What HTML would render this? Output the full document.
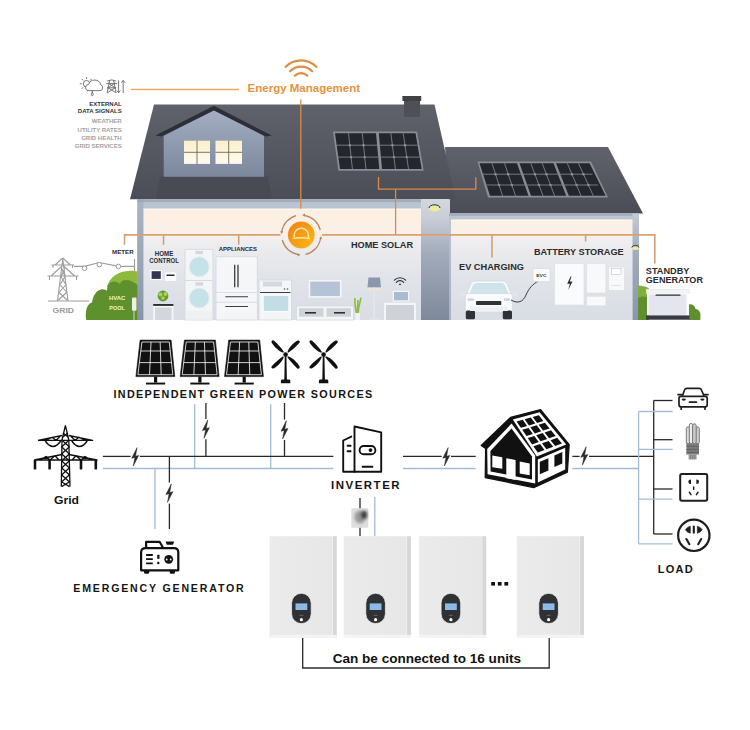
<!DOCTYPE html>
<html><head><meta charset="utf-8"><style>
html,body{margin:0;padding:0;background:#fff;width:750px;height:730px;overflow:hidden}
svg{display:block}
text{font-family:"Liberation Sans",sans-serif;font-weight:bold}
</style></head><body>
<svg width="750" height="730" viewBox="0 0 750 730">
<defs>
<linearGradient id="roofA" x1="0" y1="0" x2="0" y2="1"><stop offset="0" stop-color="#5f626a"/><stop offset="1" stop-color="#4b4e56"/></linearGradient>
<linearGradient id="roofB" x1="0" y1="0" x2="0" y2="1"><stop offset="0" stop-color="#60636b"/><stop offset="1" stop-color="#4a4d55"/></linearGradient>
<linearGradient id="dorm" x1="0" y1="0" x2="0" y2="1"><stop offset="0" stop-color="#a3aec2"/><stop offset="1" stop-color="#7c879c"/></linearGradient>
<linearGradient id="inner" gradientUnits="userSpaceOnUse" x1="0" y1="209" x2="0" y2="320"><stop offset="0" stop-color="#fdf0e2"/><stop offset="0.22" stop-color="#faf0e8"/><stop offset="0.3" stop-color="#eeedef"/><stop offset="0.6" stop-color="#e1e4e9"/><stop offset="1" stop-color="#d9dde4"/></linearGradient>
<linearGradient id="col" x1="0" y1="0" x2="0" y2="1"><stop offset="0" stop-color="#d3d7de"/><stop offset="0.15" stop-color="#c9ced7"/><stop offset="0.45" stop-color="#a2abba"/><stop offset="1" stop-color="#7f899c"/></linearGradient>
<linearGradient id="sun" x1="0" y1="0" x2="1" y2="1"><stop offset="0" stop-color="#ef7f1a"/><stop offset="1" stop-color="#fdbb14"/></linearGradient>
<linearGradient id="bat" x1="0" y1="0" x2="1" y2="0"><stop offset="0" stop-color="#ebebeb"/><stop offset="0.93" stop-color="#e7e7e7"/><stop offset="0.935" stop-color="#f1f1f1"/><stop offset="0.95" stop-color="#d6d6d6"/><stop offset="1" stop-color="#d9d9d9"/></linearGradient>
<filter id="blur1" x="-50%" y="-50%" width="200%" height="200%"><feGaussianBlur stdDeviation="1.4"/></filter>
<linearGradient id="col2" x1="0" y1="0" x2="0" y2="1"><stop offset="0" stop-color="#c3cad5"/><stop offset="0.3" stop-color="#a5afbe"/><stop offset="1" stop-color="#8a95a8"/></linearGradient>
<linearGradient id="band" x1="0" y1="0" x2="0" y2="1"><stop offset="0" stop-color="#bcc6d2"/><stop offset="0.5" stop-color="#aebacb"/><stop offset="1" stop-color="#a6b3c4"/></linearGradient>
<linearGradient id="col3" x1="0" y1="0" x2="0" y2="1"><stop offset="0" stop-color="#aab6c6"/><stop offset="0.5" stop-color="#9aa6b8"/><stop offset="1" stop-color="#8893a8"/></linearGradient>
<linearGradient id="win" x1="0" y1="0" x2="0" y2="1"><stop offset="0" stop-color="#fcf0c8"/><stop offset="1" stop-color="#fefaf0"/></linearGradient>
</defs>

<!-- ============ TOP ILLUSTRATION ============ -->
<!-- wifi -->
<g fill="none" stroke="#de8d45" stroke-width="2.2" stroke-linecap="round">
<path d="M285.6 66.8 A21.7 21.7 0 0 1 316.4 66.8"/>
<path d="M290.1 71.3 A15.6 15.6 0 0 1 312.2 71.3"/>
<path d="M294.8 75.8 A8.8 8.8 0 0 1 307.4 75.8"/>
</g>
<text x="247.6" y="92.4" font-size="11.5" fill="#e6923f">Energy Management</text>
<line x1="131" y1="89.5" x2="239" y2="89.5" stroke="#efa766" stroke-width="1.3"/>

<!-- external data signals -->
<g font-size="6" text-anchor="end">
<text x="121.7" y="106.3" fill="#333">EXTERNAL</text>
<text x="121.7" y="113.2" fill="#333">DATA SIGNALS</text>
<text x="121.7" y="123.4" fill="#a2a2a2">WEATHER</text>
<text x="121.7" y="131.6" fill="#a2a2a2">UTILITY RATES</text>
<text x="121.7" y="139.5" fill="#a2a2a2">GRID HEALTH</text>
<text x="121.7" y="147.7" fill="#a2a2a2">GRID SERVICES</text>
</g>
<g fill="none" stroke="#6a6a6a" stroke-width="0.9" stroke-linecap="round">
<circle cx="86.6" cy="83.8" r="3.3"/>
<path d="M86.6 78.6v-1.2M81.4 83.8h-1.2M82.9 80.1l-0.9-0.9M82.9 87.5l-0.9 0.9M90.3 80.1l0.9-0.9"/>
<path d="M87.6 90.6 H100 A2.9 2.9 0 0 0 100.9 85 A6.4 6.4 0 0 0 88.6 84.4 A3.2 3.2 0 0 0 87.6 90.6 Z" fill="#fff"/>
<path d="M92.3 90.6 V92.2 M92.3 92.2 C91 94 91 95.7 92.3 95.7 C93.6 95.7 93.6 94 92.3 92.2Z"/>
<path d="M107.6 80.8 Q111.6 78.8 115.6 80.8 M106.6 83.6 H116.6 M107.4 87.8 H115.8 M109.6 80.6 L107.2 92.6 M113.6 80.6 L116 92.6 M109 83.6 L115.2 87.8 M114.2 83.6 L108 87.8 M108.2 87.8 L115.6 92.6 M115 87.8 L107.6 92.6"/>
<path d="M118.6 80.6 V92.6 M117 90.8 L118.6 92.6 L120.2 90.8 M123.2 92.6 V80.6 M121.6 82.4 L123.2 80.6 L124.8 82.4"/>
</g>

<!-- house roofs -->
<polygon points="445,147.1 608,147.1 643,213.6 449,213.6" fill="url(#roofB)"/>
<polygon points="154,104.5 434.5,104.5 456,199.2 130,199.2" fill="url(#roofA)"/>
<!-- chimney -->
<rect x="404" y="100" width="16" height="17" fill="#4e5056"/>
<rect x="402.4" y="96" width="18.8" height="5" fill="#3f4147"/>
<!-- dormer shadow -->
<polygon points="160,176.7 268,176.7 272,199.2 156,199.2" fill="#46484e" opacity="0.6"/>
<!-- dormer wall -->
<polygon points="163.7,136 213.9,110 264,136 264,176.7 163.7,176.7" fill="url(#dorm)"/>
<polygon points="155.5,135.6 213.9,105.8 271.8,135.6 266,136.4 213.9,110.4 161,136.4" fill="#2c2f36"/>
<rect x="184" y="140.7" width="26" height="23.2" fill="url(#win)"/>
<rect x="215.5" y="140.7" width="26.5" height="23.2" fill="url(#win)"/>
<path d="M197 140.7v23.2M184 152.3h26M228.7 140.7v23.2M215.5 152.3h26.5" fill="none" stroke="#6f685a" stroke-width="0.9"/>

<!-- main roof solar -->
<polygon points="333,131.5 417,131.5 423.7,170.8 338.4,170.8" fill="#8b8d93"/>
<g fill="#23262d">
<polygon points="335,133.3 376,133.3 379.3,169 340,169"/>
<polygon points="378.8,133.3 415.5,133.3 421.7,169 382,169"/>
</g>
<g stroke="#7f828a" stroke-width="0.9" fill="none">
<path d="M348.5 133.3 L352.4 169 M362.3 133.3 L365.9 169 M390.9 133.3 L395.4 169 M403.2 133.3 L408.5 169"/>
<path d="M336.2 145.2 L377.1 145.2 M337.5 157.1 L378.2 157.1 M379.8 145.2 L417.5 145.2 M380.9 157.1 L419.6 157.1"/>
</g>
<!-- lower roof solar -->
<polygon points="477.5,161.6 591,161.6 608,197.5 488,197.5" fill="#8b8d93"/>
<g fill="#23262d">
<polygon points="479.5,163.3 517,163.3 528.5,195.8 490,195.8"/>
<polygon points="519.5,163.3 553.5,163.3 566.2,195.8 531,195.8"/>
<polygon points="556,163.3 589.6,163.3 605.6,195.8 568.8,195.8"/>
</g>
<g stroke="#7f828a" stroke-width="0.9" fill="none">
<path d="M492 163.3 L502.5 195.8 M504.5 163.3 L515.5 195.8 M530.8 163.3 L543 195.8 M542.2 163.3 L554.6 195.8 M567.3 163.3 L581.1 195.8 M578.5 163.3 L593.3 195.8"/>
<path d="M483 174.2 L592.5 174.2 M486.5 185 L598 185"/>
</g>
<g fill="#8e9197"><circle cx="349.8" cy="145.2" r="1.2"/><circle cx="351.1" cy="157.1" r="1.2"/><circle cx="363.5" cy="145.2" r="1.2"/><circle cx="364.7" cy="157.1" r="1.2"/><circle cx="392.4" cy="145.2" r="1.2"/><circle cx="393.9" cy="157.1" r="1.2"/><circle cx="405.0" cy="145.2" r="1.2"/><circle cx="406.7" cy="157.1" r="1.2"/><circle cx="495.5" cy="174.2" r="1.2"/><circle cx="499.0" cy="185" r="1.2"/><circle cx="508.2" cy="174.2" r="1.2"/><circle cx="511.8" cy="185" r="1.2"/><circle cx="534.9" cy="174.2" r="1.2"/><circle cx="538.9" cy="185" r="1.2"/><circle cx="546.4" cy="174.2" r="1.2"/><circle cx="550.5" cy="185" r="1.2"/><circle cx="571.9" cy="174.2" r="1.2"/><circle cx="576.5" cy="185" r="1.2"/><circle cx="583.5" cy="174.2" r="1.2"/><circle cx="588.4" cy="185" r="1.2"/></g>
<!-- roof orange lines -->
<g stroke="#d98b4a" stroke-width="1.3" fill="none">
<path d="M378.5 177 V189.2 H475.8 V177.3"/>
</g>

<!-- walls: main building -->
<rect x="137.3" y="199.2" width="284" height="120.8" fill="url(#band)"/>
<rect x="137.3" y="199.2" width="6.2" height="120.8" fill="url(#col3)"/><rect x="137.3" y="199.2" width="284" height="3" fill="#97a2b3" opacity="0.7"/>
<rect x="143.5" y="208.7" width="277.5" height="111.3" fill="url(#inner)"/><rect x="143.5" y="208.7" width="277.5" height="0.9" fill="#fffaf2"/>
<rect x="421" y="199.2" width="29" height="120.8" fill="url(#col)"/>
<ellipse cx="434.5" cy="208.5" rx="5.5" ry="3" fill="#ecec9a"/>
<path d="M429 208 a5.5 3.2 0 0 1 11 0" fill="none" stroke="#2b2b2b" stroke-width="1"/>
<!-- walls: right building -->
<rect x="449" y="213.6" width="190" height="106.4" fill="url(#band)"/><rect x="449" y="213.6" width="190" height="2.2" fill="#97a2b3" opacity="0.7"/>
<rect x="632.5" y="213.6" width="6.5" height="106.4" fill="url(#col2)"/>
<rect x="451" y="219.7" width="181.5" height="100.3" fill="url(#inner)"/><rect x="451" y="219.7" width="181.5" height="0.9" fill="#fffaf2"/>
<ellipse cx="635.4" cy="248.3" rx="3.6" ry="1.8" fill="#e9eda4"/><path d="M631.8 247.6 a3.6 2.2 0 0 1 7.2 0" fill="none" stroke="#2b2b2b" stroke-width="0.8"/>

<!-- main orange bus -->
<g stroke="#d98b4a" stroke-width="1.3" fill="none">
<path d="M395.6 189.2 V235"/>
<path d="M300.8 99.6 V208.7"/>
</g>
<path d="M163.5 234.9 V244.7 M238.7 234.9 V244.7 M492 234.9 V257.6 M585.6 234.9 V241.6 M124.5 234.9 V244.7 M654.8 234.9 V263.4" stroke="#d09c72" stroke-width="1.5" fill="none"/>
<path d="M123.8 234.9 H280.5 M322 234.9 H655.5" stroke="#d7a272" stroke-width="1.8" fill="none"/>
<!-- energy mgmt circle -->
<g fill="none" stroke="#b8845a" stroke-width="1.2">
<path d="M296 215.6 A19.8 19.8 0 0 0 281.7 232"/>
<path d="M282.3 240 A19.8 19.8 0 0 0 298.5 254.6"/>
<path d="M305.5 254.4 A19.8 19.8 0 0 0 320.6 238.5"/>
<path d="M320.3 230 A19.8 19.8 0 0 0 304.3 215.3"/>
</g>
<g fill="#b8845a">
<path d="M281.7 234 l-1.6 -2.8 h3.2z"/>
<path d="M300.5 254.8 l-2.8 -1.6 v3.2z"/>
<path d="M320.8 236.2 l-1.6 2.8 h3.2z"/>
<path d="M302.2 215.1 l2.8 -1.6 v3.2z"/>
</g>
<circle cx="301.3" cy="235" r="13.4" fill="url(#sun)"/>
<path d="M294.2 237.8 v-2.5 a7.1 7.1 0 0 1 14.2 0 v2.5" fill="none" stroke="#fde7a0" stroke-width="1.4"/>
<path d="M292.5 238.6 q8.8 -1.6 17.6 0" fill="none" stroke="#fde7a0" stroke-width="1.4"/>

<!-- ground left: grid tower, wire, bush -->
<g fill="none" stroke="#9c9c9c" stroke-width="1.1">
<path d="M48 301 H89"/>
<path d="M62.8 259 L57.5 301 M62.8 259 L68 301 M58.5 292 L67 300 M59.5 284 L66.5 292 M60.5 276 L65.5 284 M61.5 268 L64.8 276 M67 292 L58.5 300 M66.5 284 L59.5 292 M65.5 276 L60.5 284 M64.8 268 L61.5 276"/>
<path d="M51.5 265 H74 M47.5 276 H78.5 M53 265 v3 M72.5 265 v3 M49.5 276 v4 M76.5 276 v4 M62.8 258 L55 265 M62.8 258 L70.5 265 M62 266 L51 276 M63.6 266 L74.5 276"/>
<path d="M74 266.4 L84.6 266.4 M84.6 266.4 L99.3 262.5 L118.4 266.4 H134"/>
<path d="M134.5 259 v14"/>
</g>
<g fill="#fff" stroke="#9c9c9c" stroke-width="1">
<circle cx="84.6" cy="268.3" r="2.3"/><circle cx="99.3" cy="264.6" r="2.3"/><circle cx="118.4" cy="266.4" r="2.3"/>
</g>
<text x="52.5" y="313.2" font-size="7.6" fill="#9a9a9a" textLength="21.5" lengthAdjust="spacingAndGlyphs">GRID</text>
<path d="M106.7 287 C110 277 118 271 130 270.7 C133 270.7 135.5 271 137.5 271.5 V286 Z" fill="#8dba3a"/>
<path d="M86.2 320 C85 312 86.5 304 92 302.5 C93 295 97 290 101 289.5 C104 289 106 290 107 291 C107 285 110 281.5 114 281.5 C117 281.5 119 283 120 284 C121 281 123 280 126 280 C130 280 134 282 137.5 285 V320 Z" fill="#5e912d"/>
<rect x="132" y="297.4" width="4.5" height="13.4" rx="1" fill="#eceef0"/><path d="M134 310.8 V320" stroke="#e6e8ea" stroke-width="0.8"/>
<g font-size="6" fill="#eef5c4">
<text x="108.9" y="299.8" textLength="16.4" lengthAdjust="spacingAndGlyphs">HVAC</text>
<text x="109.2" y="309.7" textLength="15.7" lengthAdjust="spacingAndGlyphs">POOL</text>
</g>

<!-- labels -->
<g fill="#2a2c30">
<text x="112" y="254.2" font-size="5.8" textLength="21.6" lengthAdjust="spacingAndGlyphs">METER</text>
<text x="154.8" y="255.9" font-size="6.6" textLength="18.6" lengthAdjust="spacingAndGlyphs">HOME</text>
<text x="149.3" y="263" font-size="6.6" textLength="29.6" lengthAdjust="spacingAndGlyphs">CONTROL</text>
<text x="218.7" y="251.2" font-size="6.2" textLength="38.3" lengthAdjust="spacingAndGlyphs">APPLIANCES</text>
<text x="351" y="248.4" font-size="9.4" textLength="62" lengthAdjust="spacingAndGlyphs">HOME SOLAR</text>
<text x="459" y="269.8" font-size="9.4" textLength="65" lengthAdjust="spacingAndGlyphs">EV CHARGING</text>
<text x="534" y="254.6" font-size="9.4" textLength="89.7" lengthAdjust="spacingAndGlyphs">BATTERY STORAGE</text>
<text x="645.8" y="274.2" font-size="9.2" textLength="43.6" lengthAdjust="spacingAndGlyphs">STANDBY</text>
<text x="645.8" y="282.6" font-size="9.2" textLength="57.2" lengthAdjust="spacingAndGlyphs">GENERATOR</text>
</g>

<!-- home control devices -->
<rect x="150.3" y="270" width="11.7" height="10.1" fill="#fff"/>
<rect x="151.6" y="271.2" width="9.2" height="7.7" fill="#2f3552"/>
<rect x="165" y="272.3" width="11.2" height="8.7" fill="#fbfbfc"/>
<rect x="166.5" y="274.5" width="8" height="1.5" fill="#2b2b2b"/>
<!-- side table + plant -->
<rect x="153.2" y="305.8" width="20.2" height="14.2" fill="#f5f6f8"/>
<rect x="155" y="307.5" width="16.6" height="12.5" fill="#d3d6dc"/>
<rect x="153.2" y="304" width="20.2" height="1.9" fill="#2d2f33"/>
<circle cx="163" cy="296" r="5.4" fill="#6a9a35"/>
<circle cx="160.5" cy="294.5" r="2" fill="#a6d35a"/><circle cx="165.5" cy="294" r="2" fill="#a6d35a"/><circle cx="163" cy="298" r="1.8" fill="#a6d35a"/>
<!-- washer stack -->
<g stroke="#d4d8de" stroke-width="0.8">
<rect x="185" y="249.3" width="27.9" height="31.2" fill="#f4f5f7"/>
<rect x="185" y="280.5" width="27.9" height="39.5" fill="#f4f5f7"/>
</g>
<rect x="195.5" y="250.8" width="7.5" height="3.4" fill="#d5d8dd"/>
<rect x="195.5" y="282.3" width="7.5" height="3.4" fill="#d5d8dd"/>
<circle cx="199.2" cy="266.8" r="10" fill="#c5e2e8" stroke="#e6eef0" stroke-width="1"/>
<circle cx="199.2" cy="298" r="10" fill="#c5e2e8" stroke="#e6eef0" stroke-width="1"/>
<rect x="186" y="311" width="26" height="8.5" fill="#eef0f2"/>
<!-- fridge -->
<rect x="216" y="256.7" width="41.3" height="63.3" fill="#f5f6f8" stroke="#d4d8de" stroke-width="0.8"/>
<path d="M216 292.5 H257.3 M216 302.3 H257.3" stroke="#d4d8de" stroke-width="0.8"/>
<path d="M234.7 264.7 V287.3 M238 264.7 V287.3" stroke="#3a3c40" stroke-width="1.3"/>
<path d="M225.3 296.7 H248 M225.3 306.5 H248" stroke="#3a3c40" stroke-width="1.1"/>
<!-- oven -->
<rect x="259" y="280" width="32.5" height="40" fill="#f5f6f8" stroke="#d4d8de" stroke-width="0.8"/>
<rect x="263" y="281.5" width="19" height="5" fill="#d5d8dd"/>
<path d="M260 292.5 H290.5" stroke="#3a3c40" stroke-width="1"/>
<circle cx="284.5" cy="289" r="0.8" fill="#555"/><circle cx="287.5" cy="289" r="0.8" fill="#555"/>
<rect x="263.2" y="295.3" width="25.6" height="16" fill="#c3dde4" stroke="#fff" stroke-width="0.8"/>
<!-- TV + stand -->
<rect x="308.6" y="280" width="33" height="17.7" fill="#f3f5f7"/>
<rect x="310.3" y="281.6" width="29.6" height="14.5" fill="#b4c4d6"/>
<rect x="296.5" y="306" width="57" height="14" fill="#f4f5f7" stroke="#d4d8de" stroke-width="0.8"/>
<rect x="299" y="308.2" width="24.5" height="8.5" fill="#cfd3d9"/>
<rect x="326.5" y="308.2" width="24.5" height="8.5" fill="#cfd3d9"/>
<rect x="305" y="312" width="11" height="1.6" fill="#2e3034"/><rect x="334" y="312" width="11" height="1.6" fill="#2e3034"/>
<!-- plant -->
<path d="M357.5 318 C356 310 354 304 355 298 M357.5 318 C358 310 359.5 303 361 297.7 M357.5 318 C357 311 357.5 305 358 300" stroke="#8bbd44" stroke-width="1.6" fill="none"/>
<rect x="355.3" y="313" width="4.6" height="7" fill="#f1f2f4"/>
<!-- lamp -->
<polygon points="368.5,277.4 380,277.4 381,287.5 367.4,287.5" fill="#8a97ad"/>
<rect x="367.4" y="287.5" width="13.6" height="3" fill="#f4ead0" opacity="0.7"/>
<path d="M374.2 287.5 V318" stroke="#e5e7ea" stroke-width="1.6"/>
<rect x="369.5" y="317.8" width="9.5" height="2.2" fill="#e1e3e6"/>
<!-- desk + laptop -->
<rect x="384" y="302.7" width="32" height="17.3" fill="#f4f5f7"/>
<rect x="386" y="305" width="28" height="15" fill="#cfd3d9"/>
<rect x="392.7" y="290.8" width="16.5" height="10.7" fill="#f4f5f7"/>
<rect x="394" y="292" width="14" height="8.3" fill="#a9bccf"/>
<g fill="none" stroke="#2e3034" stroke-width="1.1" stroke-linecap="round">
<path d="M394.3 280.2 a8 8 0 0 1 11.4 0"/><path d="M396.3 282.3 a5 5 0 0 1 7.4 0"/>
</g>
<circle cx="400" cy="284.3" r="0.9" fill="#2e3034"/>

<!-- car -->
<rect x="460" y="293" width="6" height="3" rx="1" fill="#e2e5e9"/><rect x="511.8" y="293" width="6" height="3" rx="1" fill="#e2e5e9"/>
<path d="M466.5 295 L470.5 284.5 Q471.5 281 475 281 H503 Q506.5 281 507.5 284.5 L511.5 295Z" fill="#f7f8fa" stroke="#d3d8de" stroke-width="0.7"/>
<path d="M469.5 294 L472.8 285.5 Q473.6 283 476.5 283 H501.5 Q504.4 283 505.2 285.5 L508.5 294Z" fill="#cfe3ea"/>
<rect x="465.3" y="293.5" width="47.2" height="18.5" rx="3" fill="#f9fafb" stroke="#d3d8de" stroke-width="0.7"/>
<rect x="476" y="301" width="25.3" height="4" rx="0.8" fill="#2f3236"/>
<rect x="467.5" y="298.5" width="6.5" height="2.2" rx="1" fill="#cdd2d8"/><rect x="503.8" y="298.5" width="6.5" height="2.2" rx="1" fill="#cdd2d8"/>
<rect x="465.8" y="310.5" width="9.2" height="8.8" rx="1.6" fill="#2f3236"/>
<rect x="502.8" y="310.5" width="9.2" height="8.8" rx="1.6" fill="#2f3236"/>
<rect x="470" y="306.5" width="38" height="4.5" fill="#eef0f2"/>
<path d="M511 300 C518 304 523 302 526 295 C529 288 533 284 538.5 281" fill="none" stroke="#3a3c40" stroke-width="1"/>
<!-- EVC -->
<rect x="533" y="268.6" width="17" height="12.9" fill="#fbfbfc" stroke="#d4d8de" stroke-width="0.6"/>
<text x="536.2" y="276.6" font-size="4" fill="#333" textLength="10.5" lengthAdjust="spacingAndGlyphs">EVC</text>
<!-- battery storage units -->
<rect x="554.7" y="263.7" width="29.3" height="41.3" fill="#fafbfc" stroke="#dde0e5" stroke-width="0.7"/>
<path d="M570.6 276.5 l-3.4 7.2 h2.7 l-1.7 6.2 l4.3 -8.3 h-2.7 l1.7 -5.1z" fill="#2a2c30"/>
<rect x="586.7" y="263.7" width="19.2" height="29.3" fill="#f8f9fa" stroke="#dde0e5" stroke-width="0.7"/>
<rect x="586.7" y="296.2" width="19.2" height="9.6" fill="#f8f9fa" stroke="#dde0e5" stroke-width="0.7"/>
<rect x="608.5" y="266.9" width="16" height="23.4" fill="#f8f9fa" stroke="#dde0e5" stroke-width="0.7"/>
<rect x="611.5" y="268.5" width="9.5" height="6" fill="#fff" stroke="#c0c4ca" stroke-width="0.6"/>
<path d="M611.5 285.5 h9.5" stroke="#c0c4ca" stroke-width="0.8" stroke-dasharray="1 1"/>

<!-- right bush + generator -->
<path d="M638 320 V285.6 C642 285.6 646 286.5 649 288.5 V320Z" fill="#7fb03a"/>
<path d="M638 320 V298 C641 296 645 296 648.8 298 V320Z" fill="#5e912d"/>
<path d="M689 320 V304.2 C693 304 695 306 695.5 309 C699 309.5 701 312.5 700.4 316 V320Z" fill="#5e912d"/>
<rect x="646.2" y="289.2" width="43.2" height="4.2" fill="#f2f3f6" stroke="#dfe2e7" stroke-width="0.5"/>
<rect x="647" y="293.4" width="40.8" height="22" fill="#fafbfc"/>
<rect x="648.5" y="294.5" width="37.8" height="20.5" fill="#e3e6ee"/>
<path d="M656 295.2 H680" stroke="#2d2f36" stroke-width="1.2" stroke-linecap="round"/>
<rect x="646.2" y="315.4" width="43.2" height="4.3" fill="#393a44"/>

<!-- ============ LOWER ============ -->
<polygon points="140.1,340.1 171.1,340.1 174.8,376.6 135.9,376.6" fill="#111" stroke="#111" stroke-width="0.6" stroke-linejoin="round"/>
<polygon points="141.91,342.00 169.29,342.00 172.81,374.70 137.90,374.70" fill="none" stroke="#fff" stroke-width="0.8"/>
<path d="M151.03 342.00 L149.53 374.70" stroke="#fff" stroke-width="0.8"/>
<path d="M140.80 350.99 L170.26 350.99" stroke="#fff" stroke-width="0.8"/>
<path d="M160.16 342.00 L161.17 374.70" stroke="#fff" stroke-width="0.8"/>
<path d="M139.38 362.60 L171.51 362.60" stroke="#fff" stroke-width="0.8"/>
<rect x="154.00" y="376.6" width="3.2" height="6" fill="#111"/>
<rect x="146.00" y="382.6" width="19.2" height="1.9" fill="#111"/>
<polygon points="184.39999999999998,340.1 215.39999999999998,340.1 219.10000000000002,376.6 180.2,376.6" fill="#111" stroke="#111" stroke-width="0.6" stroke-linejoin="round"/>
<polygon points="186.20,342.00 213.59,342.00 217.11,374.70 182.19,374.70" fill="none" stroke="#fff" stroke-width="0.8"/>
<path d="M195.33 342.00 L193.83 374.70" stroke="#fff" stroke-width="0.8"/>
<path d="M185.10 350.99 L214.56 350.99" stroke="#fff" stroke-width="0.8"/>
<path d="M204.46 342.00 L205.47 374.70" stroke="#fff" stroke-width="0.8"/>
<path d="M183.68 362.60 L215.81 362.60" stroke="#fff" stroke-width="0.8"/>
<rect x="198.30" y="376.6" width="3.2" height="6" fill="#111"/>
<rect x="190.30" y="382.6" width="19.2" height="1.9" fill="#111"/>
<polygon points="228.7,340.1 259.7,340.1 263.4,376.6 224.5,376.6" fill="#111" stroke="#111" stroke-width="0.6" stroke-linejoin="round"/>
<polygon points="230.50,342.00 257.89,342.00 261.40,374.70 226.50,374.70" fill="none" stroke="#fff" stroke-width="0.8"/>
<path d="M239.63 342.00 L238.13 374.70" stroke="#fff" stroke-width="0.8"/>
<path d="M229.40 350.99 L258.86 350.99" stroke="#fff" stroke-width="0.8"/>
<path d="M248.76 342.00 L249.77 374.70" stroke="#fff" stroke-width="0.8"/>
<path d="M227.98 362.60 L260.11 362.60" stroke="#fff" stroke-width="0.8"/>
<rect x="242.60" y="376.6" width="3.2" height="6" fill="#111"/>
<rect x="234.60" y="382.6" width="19.2" height="1.9" fill="#111"/>
<path d="M3 -0.5 C7 -2.6 13 -2.9 17.8 -1.9 C20 -1.4 20 1.1 17.8 1.2 C13 1.6 7 1.3 3 0.6 Z" fill="#111" transform="translate(285.6 354.5) rotate(-134)"/>
<path d="M3 -0.5 C7 -2.6 13 -2.9 17.8 -1.9 C20 -1.4 20 1.1 17.8 1.2 C13 1.6 7 1.3 3 0.6 Z" fill="#111" transform="translate(285.6 354.5) rotate(-44)"/>
<path d="M3 -0.5 C7 -2.6 13 -2.9 17.8 -1.9 C20 -1.4 20 1.1 17.8 1.2 C13 1.6 7 1.3 3 0.6 Z" fill="#111" transform="translate(285.6 354.5) rotate(46)"/>
<path d="M3 -0.5 C7 -2.6 13 -2.9 17.8 -1.9 C20 -1.4 20 1.1 17.8 1.2 C13 1.6 7 1.3 3 0.6 Z" fill="#111" transform="translate(285.6 354.5) rotate(136)"/>
<circle cx="285.6" cy="354.5" r="2.3" fill="#111"/>
<polygon points="284.8,354.5 286.40000000000003,354.5 286.90000000000003,380 284.3,380" fill="#111"/>
<path d="M280.90000000000003 383.3 V381 Q280.90000000000003 379.6 282.3 379.6 H288.90000000000003 Q290.3 379.6 290.3 381 V383.3Z" fill="#111"/>
<path d="M3 -0.5 C7 -2.6 13 -2.9 17.8 -1.9 C20 -1.4 20 1.1 17.8 1.2 C13 1.6 7 1.3 3 0.6 Z" fill="#111" transform="translate(323.6 354.5) rotate(-134)"/>
<path d="M3 -0.5 C7 -2.6 13 -2.9 17.8 -1.9 C20 -1.4 20 1.1 17.8 1.2 C13 1.6 7 1.3 3 0.6 Z" fill="#111" transform="translate(323.6 354.5) rotate(-44)"/>
<path d="M3 -0.5 C7 -2.6 13 -2.9 17.8 -1.9 C20 -1.4 20 1.1 17.8 1.2 C13 1.6 7 1.3 3 0.6 Z" fill="#111" transform="translate(323.6 354.5) rotate(46)"/>
<path d="M3 -0.5 C7 -2.6 13 -2.9 17.8 -1.9 C20 -1.4 20 1.1 17.8 1.2 C13 1.6 7 1.3 3 0.6 Z" fill="#111" transform="translate(323.6 354.5) rotate(136)"/>
<circle cx="323.6" cy="354.5" r="2.3" fill="#111"/>
<polygon points="322.8,354.5 324.40000000000003,354.5 324.90000000000003,380 322.3,380" fill="#111"/>
<path d="M318.90000000000003 383.3 V381 Q318.90000000000003 379.6 320.3 379.6 H326.90000000000003 Q328.3 379.6 328.3 381 V383.3Z" fill="#111"/>
<text x="113.5" y="397.75" font-size="10.8" fill="#151515" textLength="258.6" lengthAdjust="spacing">INDEPENDENT GREEN POWER SOURCES</text>
<path d="M102.8 468.5 H333.3" stroke="#a3bcd6" stroke-width="1.3"/>
<path d="M194.7 404.3 V468.5" stroke="#a3bcd6" stroke-width="1.3"/>
<path d="M270.7 404.3 V468.5" stroke="#a3bcd6" stroke-width="1.3"/>
<path d="M155 468.5 V529" stroke="#a3bcd6" stroke-width="1.3"/>
<path d="M102.8 456.4 H130.6" stroke="#282828" stroke-width="1.3"/>
<path d="M139.8 456.4 H333.3" stroke="#282828" stroke-width="1.3"/>
<path d="M137.10 447.60 L131.70 458.20 L134.90 457.40 L133.30 466.00 L138.70 455.40 L135.50 456.20Z" fill="#282828" stroke="#282828" stroke-width="0.5" stroke-linejoin="round"/>
<path d="M205.9 403 V418.9" stroke="#282828" stroke-width="1.3"/>
<path d="M205.9 439.3 V456.4" stroke="#282828" stroke-width="1.3"/>
<path d="M207.80 419.90 L202.40 430.50 L205.60 429.70 L204.00 438.30 L209.40 427.70 L206.20 428.50Z" fill="#282828" stroke="#282828" stroke-width="0.5" stroke-linejoin="round"/>
<path d="M284.5 403 V419.6" stroke="#282828" stroke-width="1.3"/>
<path d="M284.5 440 V456.4" stroke="#282828" stroke-width="1.3"/>
<path d="M286.40 420.60 L281.00 431.20 L284.20 430.40 L282.60 439.00 L288.00 428.40 L284.80 429.20Z" fill="#282828" stroke="#282828" stroke-width="0.5" stroke-linejoin="round"/>
<path d="M169.4 456.4 V482.6" stroke="#282828" stroke-width="1.3"/>
<path d="M169.4 503.6 V529" stroke="#282828" stroke-width="1.3"/>
<path d="M171.30 483.90 L165.90 494.50 L169.10 493.70 L167.50 502.30 L172.90 491.70 L169.70 492.50Z" fill="#282828" stroke="#282828" stroke-width="0.5" stroke-linejoin="round"/>
<path d="M403 468.5 H475.7" stroke="#a3bcd6" stroke-width="1.3"/>
<path d="M403 456.4 H441.7" stroke="#282828" stroke-width="1.3"/>
<path d="M451 456.4 H475.7" stroke="#282828" stroke-width="1.3"/>
<path d="M448.20 447.60 L442.80 458.20 L446.00 457.40 L444.40 466.00 L449.80 455.40 L446.60 456.20Z" fill="#282828" stroke="#282828" stroke-width="0.5" stroke-linejoin="round"/>
<path d="M572.4 468.5 H638.6" stroke="#a3bcd6" stroke-width="1.3"/>
<path d="M572.4 456.4 H579.6" stroke="#282828" stroke-width="1.3"/>
<path d="M589 456.4 H653.7" stroke="#282828" stroke-width="1.3"/>
<path d="M586.20 446.70 L580.80 457.30 L584.00 456.50 L582.40 465.10 L587.80 454.50 L584.60 455.30Z" fill="#282828" stroke="#282828" stroke-width="0.5" stroke-linejoin="round"/>
<path d="M653.7 400.5 V534" stroke="#282828" stroke-width="1.3"/>
<path d="M653.7 400.5 H672.5" stroke="#282828" stroke-width="1.3"/>
<path d="M653.7 439.7 H672.5" stroke="#282828" stroke-width="1.3"/>
<path d="M653.7 489 H672.5" stroke="#282828" stroke-width="1.3"/>
<path d="M653.7 534 H672.5" stroke="#282828" stroke-width="1.3"/>
<path d="M638.6 411.5 V543.8" stroke="#a3bcd6" stroke-width="1.3"/>
<path d="M638.6 411.5 H672.6" stroke="#a3bcd6" stroke-width="1.3"/>
<path d="M638.6 449.3 H672.6" stroke="#a3bcd6" stroke-width="1.3"/>
<path d="M638.6 499.2 H672.6" stroke="#a3bcd6" stroke-width="1.3"/>
<path d="M638.6 543.8 H672.6" stroke="#a3bcd6" stroke-width="1.3"/>
<path d="M360 498 V536" stroke="#282828" stroke-width="1.3"/>
<path d="M374.8 497 V536" stroke="#a3bcd6" stroke-width="1.3"/>
<rect x="351.3" y="508.2" width="17" height="19.6" rx="1.2" fill="#dedede"/>
<g filter="url(#blur1)"><ellipse cx="360" cy="517" rx="5.5" ry="6.5" fill="#9a9a9a"/><ellipse cx="364" cy="515" rx="3.2" ry="4.2" fill="#3c3c3c"/></g>
<path d="M302.7 637.6 V668 H549.2 V637.6" fill="none" stroke="#282828" stroke-width="1.3"/>
<text x="332.7" y="662.7" font-size="13.6" fill="#111" textLength="188.3" lengthAdjust="spacingAndGlyphs">Can be connected to 16 units</text>
<rect x="269.6" y="536.2" width="67.2" height="101.5" fill="url(#bat)"/>
<rect x="269.6" y="634.8" width="67.2" height="3" fill="#f4f4f4"/>
<rect x="291.60" y="593.3" width="19.6" height="30.3" rx="9.8" fill="#2f3134" stroke="#f6f6f6" stroke-width="0.7"/>
<rect x="295.50" y="603.4" width="11.8" height="6.6" fill="#8dbbe8"/>
<path d="M299.40 615.3 h4" stroke="#888" stroke-width="0.6"/>
<circle cx="301.40" cy="619.7" r="1.6" fill="#fff"/>
<rect x="343.8" y="536.2" width="67.2" height="101.5" fill="url(#bat)"/>
<rect x="343.8" y="634.8" width="67.2" height="3" fill="#f4f4f4"/>
<rect x="365.80" y="593.3" width="19.6" height="30.3" rx="9.8" fill="#2f3134" stroke="#f6f6f6" stroke-width="0.7"/>
<rect x="369.70" y="603.4" width="11.8" height="6.6" fill="#8dbbe8"/>
<path d="M373.60 615.3 h4" stroke="#888" stroke-width="0.6"/>
<circle cx="375.60" cy="619.7" r="1.6" fill="#fff"/>
<rect x="419.1" y="536.2" width="67.2" height="101.5" fill="url(#bat)"/>
<rect x="419.1" y="634.8" width="67.2" height="3" fill="#f4f4f4"/>
<rect x="441.10" y="593.3" width="19.6" height="30.3" rx="9.8" fill="#2f3134" stroke="#f6f6f6" stroke-width="0.7"/>
<rect x="445.00" y="603.4" width="11.8" height="6.6" fill="#8dbbe8"/>
<path d="M448.90 615.3 h4" stroke="#888" stroke-width="0.6"/>
<circle cx="450.90" cy="619.7" r="1.6" fill="#fff"/>
<rect x="516.8" y="536.2" width="67.2" height="101.5" fill="url(#bat)"/>
<rect x="516.8" y="634.8" width="67.2" height="3" fill="#f4f4f4"/>
<rect x="538.80" y="593.3" width="19.6" height="30.3" rx="9.8" fill="#2f3134" stroke="#f6f6f6" stroke-width="0.7"/>
<rect x="542.70" y="603.4" width="11.8" height="6.6" fill="#8dbbe8"/>
<path d="M546.60 615.3 h4" stroke="#888" stroke-width="0.6"/>
<circle cx="548.60" cy="619.7" r="1.6" fill="#fff"/>
<rect x="491.20" y="582" width="3.8" height="3.6" fill="#111"/>
<rect x="497.80" y="582" width="3.8" height="3.6" fill="#111"/>
<rect x="504.40" y="582" width="3.8" height="3.6" fill="#111"/>
<g fill="none" stroke="#111" stroke-width="1.3" stroke-linejoin="round">
<path d="M65.4 425.5 L62 440 L61.3 486.6 M65.4 425.5 L68.8 440 L70 486.6"/>
<path d="M61.8 440 L69.5 447 M69.2 440 L61.6 447"/>
<path d="M61.8 447 L69.5 454 M69.2 447 L61.6 454"/>
<path d="M61.8 454 L69.5 461 M69.2 454 L61.6 461"/>
<path d="M61.8 461 L69.5 468 M69.2 461 L61.6 468"/>
<path d="M61.8 468 L69.5 475 M69.2 468 L61.6 475"/>
<path d="M61.8 475 L69.5 482 M69.2 475 L61.6 482"/>
<path d="M61.8 482 L69.5 486.6 M69.2 482 L61.6 486.6"/>
<path d="M63 433 L68 437 M67.8 433 L63 437"/>
<path d="M37.9 440.3 L62 435.5 M37.9 440.3 H92.7 L68.8 435.5 M45 440.3 L52 437.3 L56 440.3 L60 436.6 M86 440.3 L79 437.3 L75 440.3 L71 436.6"/>
<path d="M45.3 441 Q53 452 60.7 441 M71.8 441 Q79.5 452 87.2 441" stroke-width="1.5"/>
<path d="M34.2 460 L62 454.5 M34.2 460 H97 L68.8 454.5 M40 460 L46 456.5 L50 460 L55 455.8 L59 460 M91 460 L85 456.5 L81 460 L76 455.8 L72 460"/>
</g>
<rect x="33.7" y="460" width="2.6" height="9.4" rx="0.6" fill="#111"/>
<rect x="48.300000000000004" y="460" width="2.6" height="9.4" rx="0.6" fill="#111"/>
<rect x="79.7" y="460" width="2.6" height="9.4" rx="0.6" fill="#111"/>
<rect x="94.5" y="460" width="2.6" height="9.4" rx="0.6" fill="#111"/>
<text x="54" y="503.6" font-size="10.9" fill="#151515" textLength="25" lengthAdjust="spacingAndGlyphs">Grid</text>
<g fill="none" stroke="#111" stroke-width="1.9" stroke-linejoin="round" stroke-linecap="round">
<path d="M354.5 471.8 V426.5 L381.2 432.4 V471.8 Z"/>
<path d="M351.3 436.6 L343.2 440.5 V471.8 H354.5"/>
<path d="M347.6 445.7 H350.6 M347.6 451.3 H350.6 M362.6 466.7 H372.4"/>
<rect x="359.6" y="446" width="15.8" height="8.3" rx="4.15"/>
</g>
<circle cx="370.5" cy="450.1" r="1.9" fill="#111"/>
<text x="331" y="488.6" font-size="11.5" fill="#151515" textLength="68.6" lengthAdjust="spacing">INVERTER</text>
<polygon points="481.2,445.5 510.5,417.4 540.6,409.6 569.2,444.6 567.4,472.2 533.7,487.6 485.2,477.6 485.6,448.6" fill="#111" stroke="#111" stroke-width="1.2" stroke-linejoin="round"/>
<polygon points="487.2,449 511.6,423.6 535.2,455.4 535.2,483.4 487.6,474.2" fill="#fff"/>
<polygon points="490.4,451 511.6,428.4 532,456.6 532,479.6 490.6,471.6" fill="#111"/>
<polygon points="492.3,455.6 502.3,457.2 502.3,468.8 492.3,467.2" fill="#fff"/>
<polygon points="519.7,461.6 529.7,463.4 529.7,475.2 519.7,473.4" fill="#fff"/>
<polygon points="506.3,458.2 515.6,459.9 515.6,480 506.3,478.3" fill="#fff"/>
<polygon points="537.8,459.6 565.2,447.8 565.2,469.6 537.8,482.6" fill="#fff"/>
<polygon points="539.8,461.8 548.4,458.2 548.4,470.4 539.8,474.2" fill="#111"/>
<polygon points="554.4,455.4 562.3,452 562.3,463.6 554.4,467" fill="#111"/>
<polygon points="512.8,419.4 539.6,412.2 566.2,444.4 536.8,456.6" fill="#fff"/>
<polygon points="516.6,421.5 522.8,419.8 527.1,425.9 520.8,427.8" fill="#111"/>
<polygon points="522.2,429.8 528.5,427.9 532.9,434.0 526.5,436.1" fill="#111"/>
<polygon points="527.8,438.1 534.3,435.9 538.7,442.0 532.1,444.4" fill="#111"/>
<polygon points="533.4,446.3 540.1,444.0 544.5,450.1 537.7,452.6" fill="#111"/>
<polygon points="524.6,419.3 530.8,417.6 535.3,423.5 529.0,425.4" fill="#111"/>
<polygon points="530.4,427.3 536.7,425.3 541.2,431.2 534.8,433.4" fill="#111"/>
<polygon points="536.2,435.3 542.7,433.1 547.2,439.0 540.6,441.3" fill="#111"/>
<polygon points="542.0,443.3 548.6,440.9 553.2,446.8 546.4,449.3" fill="#111"/>
<polygon points="532.6,417.1 538.7,415.3 543.4,421.0 537.1,422.9" fill="#111"/>
<polygon points="538.6,424.8 544.9,422.8 549.6,428.5 543.1,430.6" fill="#111"/>
<polygon points="544.6,432.5 551.0,430.3 555.7,436.0 549.1,438.3" fill="#111"/>
<polygon points="550.6,440.2 557.2,437.8 561.9,443.5 555.1,446.0" fill="#111"/>
<g fill="none" stroke="#1e1e1e" stroke-width="1.7" stroke-linejoin="round" stroke-linecap="round">
<path d="M682.4 396 L684.4 390.2 Q685 388.3 687 388.3 H699 Q701 388.3 701.6 390.2 L704 396"/>
<rect x="679" y="396.4" width="28.2" height="10.4" rx="2"/>
<path d="M678 394.6 H681.6 M704.6 394.6 H708 M689.4 402.1 H696.4 M681.2 407 V409.2 M705 407 V409.2"/>
</g>
<ellipse cx="683.8" cy="399.6" rx="2.1" ry="1.1" fill="#1e1e1e"/><ellipse cx="702.4" cy="399.6" rx="2.1" ry="1.1" fill="#1e1e1e"/>
<g stroke="#6f6f6f" stroke-width="0.9">
<rect x="686.3" y="426.8" width="3.6" height="17" rx="1.8" fill="#dcdcdc"/>
<rect x="695.7" y="426.8" width="3.6" height="17" rx="1.8" fill="#d0d0d0"/>
<rect x="689.3" y="423.4" width="3.6" height="20.2" rx="1.8" fill="#ececec"/>
<rect x="692.6" y="423.8" width="3.6" height="19.8" rx="1.8" fill="#c8c8c8"/>
</g>
<rect x="686.4" y="443.3" width="12.6" height="11.3" fill="#7c7c7c"/>
<path d="M686.4 446.3 H699 M686.4 449.4 H699 M686.4 452.3 H699" stroke="#5a5a5a" stroke-width="0.8"/>
<rect x="688.6" y="454.6" width="8" height="4.8" fill="#9a9a9a"/>
<path d="M690.5 454.6 V459.4 M692.6 454.6 V459.4 M694.7 454.6 V459.4" stroke="#777" stroke-width="0.6"/>
<rect x="680.2" y="474" width="27" height="26.8" rx="1.8" fill="#fff" stroke="#1e1e1e" stroke-width="2"/>
<path d="M691 479.4 V484 A2.6 2.3 0 0 1 691 479.4 Z" fill="#1e1e1e"/>
<path d="M696.4 479.4 V484 A2.6 2.3 0 0 0 696.4 479.4 Z" fill="#1e1e1e"/>
<path d="M693.7 487 V489.4 M689.4 492.3 L691 494.6 M698 492.3 L696.4 494.6" stroke="#1e1e1e" stroke-width="1.5" stroke-linecap="round"/>
<circle cx="693.8" cy="535.3" r="15.7" fill="#fff" stroke="#1e1e1e" stroke-width="2.2"/>
<path d="M690.3 526.2 V533.2 Q686.6 532.2 685.4 529.7 Q686.6 527.2 690.3 526.2 Z" fill="#1e1e1e" stroke="#1e1e1e" stroke-width="0.6" stroke-linejoin="round"/>
<path d="M697.3 526.2 V533.2 Q701 532.2 702.2 529.7 Q701 527.2 697.3 526.2 Z" fill="#1e1e1e" stroke="#1e1e1e" stroke-width="0.6" stroke-linejoin="round"/>
<path d="M693.8 526.6 V532.8 M686.4 539 L689.4 544.2 M701.2 539 L698.2 544.2" stroke="#1e1e1e" stroke-width="2.1" stroke-linecap="round"/>
<text x="657.8" y="573" font-size="11" fill="#151515" textLength="34.8" lengthAdjust="spacing">LOAD</text>
<g fill="none" stroke="#111" stroke-width="2.2" stroke-linejoin="round">
<path d="M141.1 570.3 V552.5 Q141.1 548.1 145.5 548.1 H174 Q178.3 548.1 178.3 552.5 V570.3 Z"/>
<path d="M146.1 548 V541.8 H159.6 L163.2 548"/>
</g>
<polygon points="165.6,541.6 174.2,541.6 173,544.8 166.8,544.8" fill="#111"/>
<path d="M146.1 555 H152.8 M146.1 559.1 H152.8 M146.1 563.3 H152.8" stroke="#111" stroke-width="1.8"/>
<rect x="157.2" y="554.8" width="2.3" height="4" fill="#111"/><circle cx="158.3" cy="563" r="1.2" fill="#111"/>
<circle cx="168.7" cy="559.3" r="4.4" fill="#111"/><circle cx="166.7" cy="559.5" r="0.9" fill="#fff"/><circle cx="170.7" cy="559.5" r="0.9" fill="#fff"/>
<path d="M144 570 h5.3 v2.2 q0 1.5 -1.5 1.5 h-2.3 q-1.5 0 -1.5 -1.5z M169.7 570 h5.3 v2.2 q0 1.5 -1.5 1.5 h-2.3 q-1.5 0 -1.5 -1.5z" fill="#111"/>
<text x="73.3" y="591.6" font-size="10.6" fill="#151515" textLength="170.4" lengthAdjust="spacing">EMERGENCY GENERATOR</text>
</svg>
</body></html>
